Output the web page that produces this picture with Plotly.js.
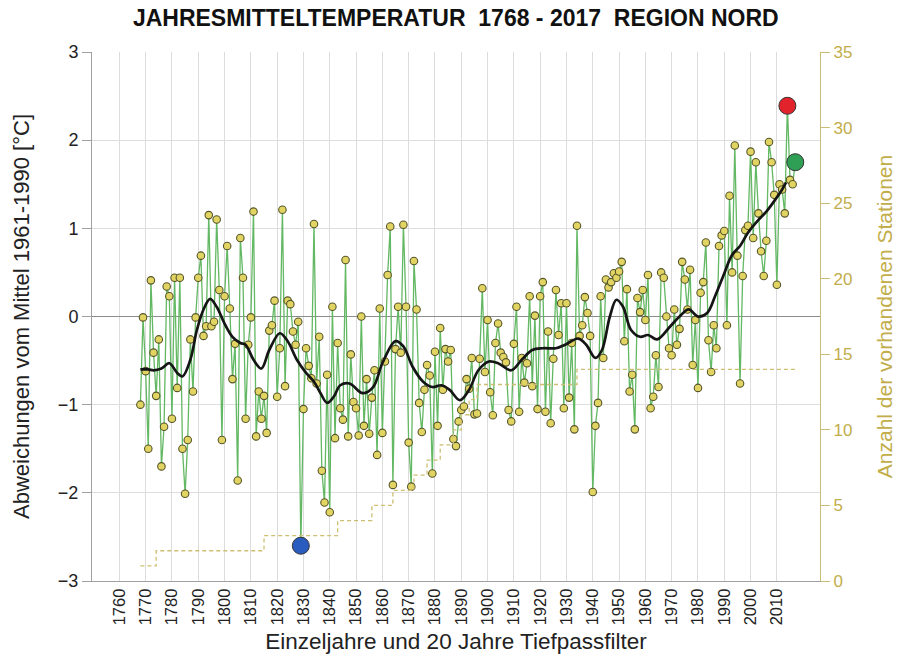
<!DOCTYPE html>
<html>
<head>
<meta charset="utf-8">
<script src="https://cdn.plot.ly/plotly-3.0.1.min.js"></script>
<style>html,body{margin:0;padding:0;background:#fff;}#chart{width:899px;height:659px;}</style>
</head>
<body>
<div id="chart"></div>
<script>
// Annual mean temperature anomalies 1768-2017 (°C, vs 1961-1990)
const startYear = 1768;
const temps = [
  -1.00, -0.01,
  -0.62, -1.50, 0.41, -0.41, -0.90, -0.26, -1.70, -1.25, 0.34, 0.23,
  -1.16, 0.44, -0.81, 0.44, -1.50, -2.01, -1.40, -0.26, -0.85, -0.01,
  0.44, 0.69, -0.22, -0.11, 1.15, -0.11, -0.06, 1.10, 0.30, -1.40,
  0.23, 0.80, 0.09, -0.71, -0.31, -1.86, 0.89, 0.44, -1.16, -0.32,
  -0.01, 1.19, -1.36, -0.85, -1.16, -0.90, -1.32, -0.16, -0.10, 0.18,
  -0.91, -0.36, 1.21, -0.79, 0.18, 0.14, -0.17, -0.32, -0.06, -2.60,
  -1.05, -0.36, -0.56, -0.70, 1.05, -0.76, -0.23, -1.75, -2.11, -0.66,
  -2.22, 0.11, -1.38, -0.30, -1.04, -1.17, 0.64, -1.36, -0.43, -0.97,
  -1.04, -1.35, 0.00, -1.24, -0.71, -1.33, -0.92, -0.61, -1.57, 0.09,
  -1.32, -0.51, 0.47, 1.02, -1.91, -0.37, 0.11, -0.41, 1.04, 0.11,
  -1.43, -1.93, 0.63, 0.08, -0.98, -1.31, -0.83, -0.55, -0.67, -1.78,
  -0.40, -1.24, -0.13, -0.83, -0.37, -0.51, -0.38, -1.39, -1.47, -1.19,
  -1.06, -1.02, -0.71, -0.82, -0.47, -1.11, -1.10, -0.48, 0.32, -0.63,
  -0.04, -0.86, -1.12, -0.30, -0.08, -0.41, -0.46, -0.52, -1.06, -1.19,
  -0.31, 0.11, -1.08, -0.47, -0.75, -0.53, 0.23, -0.79, 0.01, -1.05,
  0.23, 0.39, -1.08, -0.17, -1.21, -0.48, 0.30, -0.21, 0.15, -1.04,
  0.15, -0.92, -0.30, -1.28, 1.03, -0.22, -0.10, 0.22, 0.04, -0.22,
  -1.99, -1.24, -0.98, 0.23, -0.47, 0.42, 0.33, 0.39, 0.49, 0.44,
  0.51, 0.62, -0.28, 0.31, -0.85, -0.66, -1.28, 0.21, 0.05, 0.30,
  -0.04, 0.47, -1.04, -0.91, -0.44, -0.80, 0.50, 0.44, 0.00, -0.36,
  -0.44, 0.08, -0.32, -0.14, 0.62, 0.42, 0.08, 0.53, -0.55, -0.04,
  -0.81, 0.27, 0.39, 0.84, -0.27, -0.63, -0.10, -0.36, 0.80, 0.92,
  0.97, -0.10, 1.37, 0.50, 1.94, 0.69, -0.76, 0.46, 0.98, 1.03,
  1.87, 0.89, 1.75, 1.17, 0.74, 0.46, 0.86, 1.98, 1.75, 1.38,
  0.36, 1.50, 1.44, 1.17, 2.39, 1.55, 1.50, 1.75
];
const years = temps.map((_, i) => startYear + i);

// 20-year low-pass filter curve
const smoothYears = [1768, 1771, 1773, 1776, 1779, 1782, 1784, 1787, 1789.5, 1792, 1794.5, 1797, 1800, 1803, 1806, 1808, 1811, 1814, 1817, 1821, 1824, 1827.5, 1831, 1834, 1836.5, 1839, 1841.5, 1844, 1847.5, 1852.5, 1856.5, 1860, 1865, 1868, 1871.5, 1875.5, 1879, 1882.5, 1885.5, 1889.5, 1893, 1896.5, 1900.5, 1904, 1909, 1913, 1917, 1921, 1926, 1929.5, 1934.5, 1937.5, 1941, 1943.5, 1946.5, 1949, 1951.5, 1954.5, 1958, 1961, 1964.5, 1969.5, 1973, 1976.5, 1980, 1983.5, 1986.5, 1989.5, 1993, 1996, 1999, 2002.5, 2006, 2009.5, 2012, 2013.5];
const smoothVals = [-0.60, -0.60, -0.61, -0.59, -0.53, -0.64, -0.68, -0.49, -0.15, 0.08, 0.20, 0.11, -0.08, -0.23, -0.30, -0.32, -0.49, -0.59, -0.38, -0.19, -0.28, -0.49, -0.64, -0.74, -0.87, -0.98, -0.91, -0.78, -0.76, -0.87, -0.80, -0.53, -0.28, -0.34, -0.57, -0.74, -0.80, -0.78, -0.83, -0.95, -0.83, -0.61, -0.51, -0.53, -0.61, -0.49, -0.38, -0.36, -0.36, -0.32, -0.25, -0.32, -0.47, -0.38, 0.00, 0.19, 0.11, -0.15, -0.23, -0.21, -0.26, -0.11, 0.00, 0.08, 0.00, 0.04, 0.23, 0.45, 0.70, 0.80, 0.95, 1.08, 1.19, 1.33, 1.44, 1.52];

// Number of available stations (step line, right axis)
const stationYears = [1768, 1774, 1815, 1843, 1856, 1864, 1872, 1877, 1882, 1887, 1890, 1893, 1896, 1934, 2017];
const stationCounts = [1, 2, 3, 4, 5, 6, 7, 8, 9, 10, 11, 12, 13, 14, 14];

// Highlighted years
const highlightYears = [1829, 2014, 2017];
const highlightVals = [-2.60, 2.39, 1.75];
const highlightColors = ['#2a5bbf', '#e3232b', '#2e9f55'];

const tickYears = [1760, 1770, 1780, 1790, 1800, 1810, 1820, 1830, 1840, 1850, 1860, 1870, 1880, 1890, 1900, 1910, 1920, 1930, 1940, 1950, 1960, 1970, 1980, 1990, 2000, 2010];

const FONT = 'Liberation Sans, Arial, Helvetica, sans-serif';
const OLIVE = '#c2ad4a';

const traces = [
  {
    x: stationYears, y: stationCounts, yaxis: 'y2', type: 'scatter', mode: 'lines',
    line: {shape: 'hv', color: '#cdbf72', width: 1.3, dash: '4px,3px'},
    hoverinfo: 'skip', showlegend: false
  },
  {
    x: years, y: temps, type: 'scatter', mode: 'lines+markers',
    line: {color: '#63b863', width: 1.3},
    marker: {size: 7.5, color: '#e2d463', line: {color: '#55552a', width: 1.1}},
    showlegend: false
  },
  {
    x: smoothYears, y: smoothVals, type: 'scatter', mode: 'lines',
    line: {color: '#151515', width: 2.7, shape: 'spline', smoothing: 1},
    showlegend: false
  },
  {
    x: highlightYears, y: highlightVals, type: 'scatter', mode: 'markers',
    marker: {size: 17, color: highlightColors, line: {color: '#333333', width: 1}},
    showlegend: false
  }
];

const layout = {
  width: 899, height: 659,
  margin: {l: 92, r: 79, t: 52, b: 78},
  paper_bgcolor: '#ffffff', plot_bgcolor: '#ffffff',
  font: {family: FONT, color: '#222222'},
  showlegend: false,
  title: {
    text: 'JAHRESMITTELTEMPERATUR\u00A0 1768 - 2017\u00A0 REGION NORD',
    font: {family: FONT, size: 23, color: '#111111', weight: 'bold'},
    x: 0.507, xanchor: 'center', xref: 'container',
    y: 0.973, yanchor: 'middle', yref: 'container'
  },
  xaxis: {
    range: [1749.6, 2026.4],
    tickmode: 'array', tickvals: tickYears, ticktext: tickYears.map(String),
    tickangle: -90, tickfont: {size: 16.5, color: '#222222'},
    ticks: '', showgrid: true, gridcolor: '#dcdcdc', gridwidth: 1,
    zeroline: false, showline: true, linecolor: '#a0a0a0', linewidth: 1,
    title: {text: 'Einzeljahre und 20 Jahre Tiefpassfilter', font: {size: 22.5, color: '#222222'}, standoff: 8}
  },
  yaxis: {
    range: [-3, 3], dtick: 1, tick0: 0,
    tickfont: {size: 18, color: '#222222'},
    ticks: 'outside', ticklen: 9, tickcolor: '#a0a0a0',
    showgrid: true, gridcolor: '#dedede', gridwidth: 1,
    zeroline: true, zerolinecolor: '#8c8c8c', zerolinewidth: 1,
    showline: true, linecolor: '#a0a0a0', linewidth: 1,
    title: {text: 'Abweichungen vom Mittel 1961-1990 [°C]', font: {size: 22, color: '#222222'}, standoff: 22}
  },
  yaxis2: {
    overlaying: 'y', side: 'right', range: [0, 35], dtick: 5, tick0: 0,
    tickfont: {size: 17, color: OLIVE},
    ticks: 'outside', ticklen: 9, tickcolor: '#c9bd78',
    showgrid: false, zeroline: false,
    showline: true, linecolor: '#c9bd78', linewidth: 1.2,
    title: {text: 'Anzahl der vorhandenen Stationen', font: {size: 21, color: OLIVE}, standoff: 25}
  }
};

Plotly.newPlot('chart', traces, layout, {displayModeBar: false, staticPlot: true});
</script>
</body>
</html>
